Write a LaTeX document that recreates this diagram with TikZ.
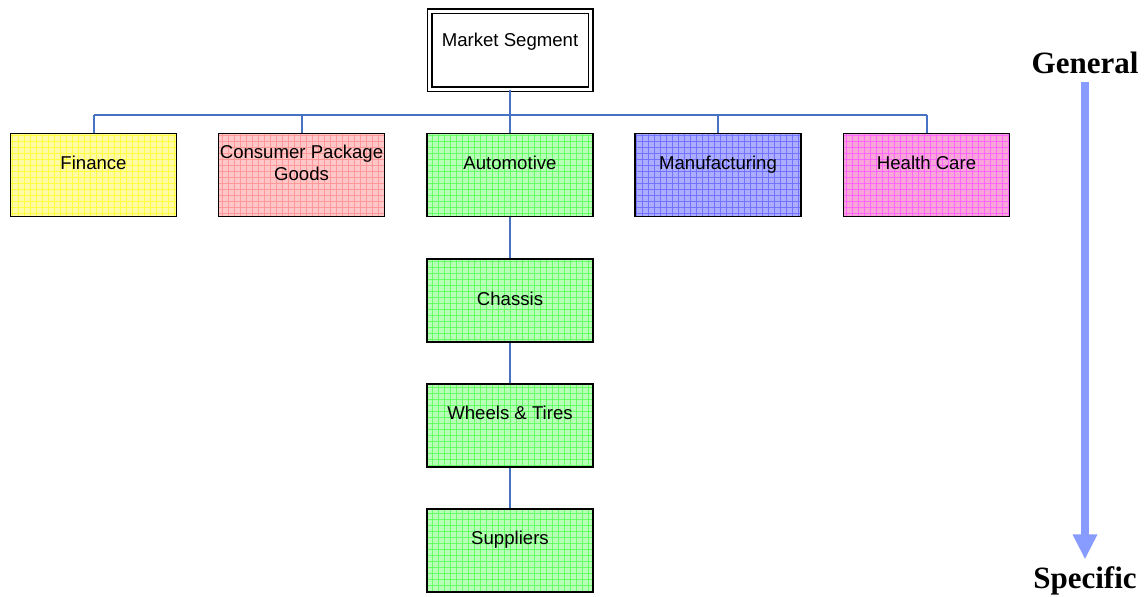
\documentclass[tikz,border=0pt]{standalone}
\usepackage{fontspec}
\setmainfont{Liberation Sans}
\newfontfamily\timesfont{Liberation Serif}
\usepackage{tikz}
\usetikzlibrary{patterns,arrows.meta}
\definecolor{linkblue}{RGB}{70,114,196}
\definecolor{arrowblue}{RGB}{136,156,255}
\tikzset{
	seg/.style={draw=black, line width=0.75pt, minimum width=83pt, minimum height=41.5pt, inner sep=0pt},
	boxtext/.style={font=\fontsize{9.3}{11}\selectfont, anchor=base, inner sep=0pt},
	link/.style={draw=linkblue, line width=1pt},
	grid fill/.style 2 args={preaction={fill=#1}, preaction={pattern=grid, pattern color=#2}},
}

\begin{document}
\begin{tikzpicture}[x=0.5pt, y=-0.5pt]
			%%%%% START %%%%%
			
			\useasboundingbox (0, 0) rectangle (1145, 597);
			
			\node[draw=black, line width=0.7pt, double, double distance=1.6pt, minimum width=80.5pt, minimum height=39pt] (ms) at (510, 50.5) {};
			\node[boxtext] (msT) at ([yshift=2pt]ms.center) {Market Segment};
			
			\node[seg, grid fill={yellow!35}{yellow!75}] (fin) at (93.5, 175) {};
			\node[seg, grid fill={red!22}{red!40}] (cpg) at (301.5, 175) {};
			\node[seg, grid fill={green!28}{green!60}] (auto) at (510, 175) {};
			\node[seg, grid fill={blue!32}{blue!55}] (mfg) at (718, 175) {};
			\node[seg, grid fill={magenta!35}{magenta!60}] (hc) at (926.5, 175) {};
			
			\node[seg, grid fill={green!28}{green!60}] (chas) at (510, 300.5) {};
			\node[seg, grid fill={green!28}{green!60}] (whl) at (510, 425.5) {};
			\node[seg, grid fill={green!28}{green!60}] (sup) at (510, 550.5) {};
			
			\node[boxtext] (finT) at ([yshift=2.75pt]fin.center) {Finance};
			\node[boxtext, anchor=center, align=center] (cpgT) at ([yshift=6pt]cpg.center) {Consumer Package\\Goods};
			\node[boxtext] (autoT) at ([yshift=2.75pt]auto.center) {Automotive};
			\node[boxtext] (mfgT) at ([yshift=2.75pt]mfg.center) {Manufacturing};
			\node[boxtext] (hcT) at ([yshift=2.75pt]hc.center) {Health Care};
			\node[boxtext] (chasT) at ([yshift=-2.5pt]chas.center) {Chassis};
			\node[boxtext] (whlT) at ([yshift=3pt]whl.center) {Wheels \& Tires};
			\node[boxtext] (supT) at ([yshift=3pt]sup.center) {Suppliers};
			
			% tree lines
			\coordinate (bus) at (510, 115);
			\draw[link] (ms.south) -- (bus);
			\draw[link] (fin.north |- bus) -- (hc.north |- bus);
			\foreach \b in {fin,cpg,auto,mfg,hc}
				\draw[link] (\b.north) -- (\b.north |- bus);
			\draw[link] (auto.south) -- (chas.north);
			\draw[link] (chas.south) -- (whl.north);
			\draw[link] (whl.south) -- (sup.north);
			
			% general -> specific
			\node[inner sep=0pt, font=\timesfont\bfseries\fontsize{15.5}{18}\selectfont] (gen) at (1085, 63) {General};
			\node[inner sep=0pt, font=\timesfont\bfseries\fontsize{15.5}{18}\selectfont] (spec) at (1085, 581) {Specific};
			\draw[-{Triangle[length=12.5pt, width=11.5pt]}, line width=4pt, color=arrowblue, shorten <=4pt, shorten >=3.5pt] (gen.south) -- (spec.north);
			
			%%%%% END %%%%%
		\end{tikzpicture}
\end{document}
